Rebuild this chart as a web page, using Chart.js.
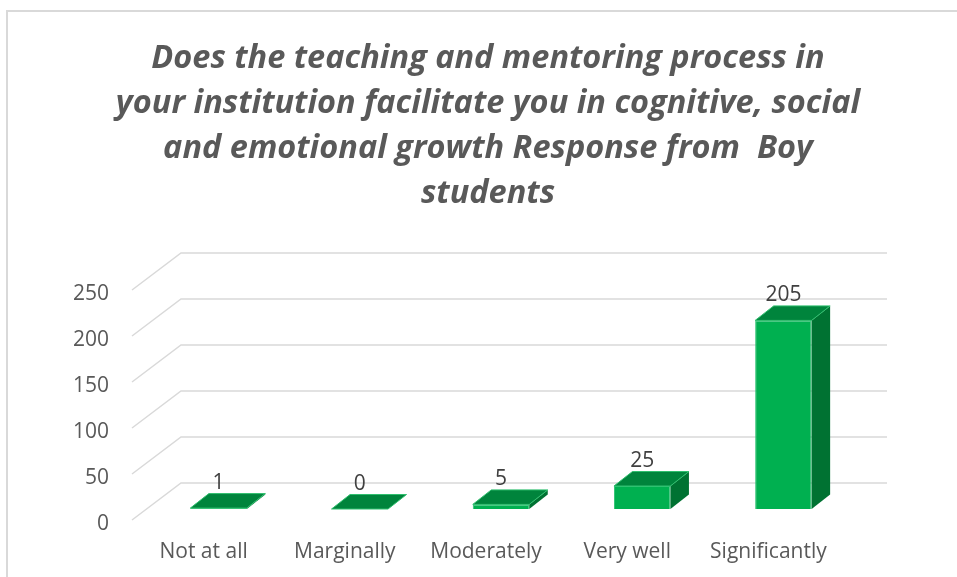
<!DOCTYPE html>
<html>
<head>
<meta charset="utf-8">
<script src="https://cdn.jsdelivr.net/npm/chart.js@4.4.1/dist/chart.umd.min.js"></script>
<style>
    html, body { margin: 0; padding: 0; background: #fff; overflow: hidden; }
    #frame { position: absolute; left: 6px; top: 10px; width: 2000px; height: 2000px;
             border-left: 2px solid #d9d9d9; border-top: 2px solid #d9d9d9; }
    #chart { position: absolute; left: 0; top: 0; }
</style>
</head>
<body>
<div id="frame"></div>
<canvas id="chart" width="957" height="577"></canvas>
<script>
const categories = ["Not at all", "Marginally", "Moderately", "Very well", "Significantly"];
const responses = [1, 0, 5, 25, 205];
const yTicks = [0, 50, 100, 150, 200, 250];
const titleLines = [
    "Does the teaching and mentoring process in",
    "your institution facilitate you in cognitive, social",
    "and emotional growth Response from  Boy",
    "students",
];

// depth offsets relative to the plane the bar fronts sit in
const BACK = { dx: 33, dy: -26 };
const FRONT = { dx: -16, dy: 11 };
const BAR_DEPTH = { dx: 18.5, dy: -14.5 };
const FONT = "'Open Sans', sans-serif";

const wallPlugin = {
    id: "wall",
    beforeDatasetsDraw(chart) {
        const { ctx, chartArea } = chart;
        const y = chart.scales.y;
        ctx.save();
        ctx.strokeStyle = "#d9d9d9";
        ctx.lineWidth = 1.5;
        yTicks.forEach((v) => {
            const py = y.getPixelForValue(v);
            ctx.beginPath();
            ctx.moveTo(chartArea.left + FRONT.dx, py + FRONT.dy);
            ctx.lineTo(chartArea.left + BACK.dx, py + BACK.dy);
            ctx.lineTo(chartArea.right + BACK.dx, py + BACK.dy);
            ctx.stroke();
        });
        ctx.restore();
    },
    afterDatasetsDraw(chart) {
        const { ctx } = chart;
        const meta = chart.getDatasetMeta(0);
        ctx.save();
        meta.data.forEach((bar, i) => {
            const l = bar.x - bar.width / 2;
            const r = bar.x + bar.width / 2;
            const t = bar.y;
            const b = bar.base;
            // side face
            ctx.fillStyle = "#007232";
            ctx.beginPath();
            ctx.moveTo(r, t);
            ctx.lineTo(r + BAR_DEPTH.dx, t + BAR_DEPTH.dy);
            ctx.lineTo(r + BAR_DEPTH.dx, b + BAR_DEPTH.dy);
            ctx.lineTo(r, b);
            ctx.closePath();
            ctx.fill();
            // top face
            ctx.fillStyle = "#00843c";
            ctx.strokeStyle = "#2fbf6e";
            ctx.lineWidth = 1;
            ctx.beginPath();
            ctx.moveTo(l, t);
            ctx.lineTo(l + BAR_DEPTH.dx, t + BAR_DEPTH.dy);
            ctx.lineTo(r + BAR_DEPTH.dx, t + BAR_DEPTH.dy);
            ctx.lineTo(r, t);
            ctx.closePath();
            ctx.fill();
            ctx.stroke();
            // value label
            ctx.fillStyle = "#404040";
            ctx.font = "21px " + FONT;
            ctx.textAlign = "center";
            ctx.textBaseline = "middle";
            ctx.fillText(String(responses[i]), bar.x, t - 25);
        });
        ctx.restore();
    },
};

new Chart(document.getElementById("chart"), {
    type: "bar",
    data: {
        labels: categories,
        datasets: [
            {
                label: "Response",
                data: responses,
                backgroundColor: "#00b050",
                borderColor: "#2fc474",
                borderWidth: 1,
                barPercentage: 0.4,
                categoryPercentage: 1,
            },
        ],
    },
    options: {
        responsive: false,
        animation: false,
        devicePixelRatio: 1,
        layout: { padding: { top: 0, right: 0, bottom: 0, left: 19 } },
        plugins: {
            legend: { display: false },
            tooltip: { enabled: false },
            title: {
                display: true,
                text: titleLines,
                color: "#595959",
                font: { family: FONT, size: 32.5, weight: "bold", style: "italic", lineHeight: "45px" },
                padding: { top: 36, bottom: 63 },
            },
        },
        scales: {
            x: {
                grid: { display: false },
                border: { display: false },
                ticks: { color: "#595959", font: { family: FONT, size: 21 }, padding: 22, labelOffset: -15 },
                afterFit(scale) { scale.height = 68; },
            },
            y: {
                min: 0,
                max: 250,
                grid: { display: false },
                border: { display: false },
                afterBuildTicks(scale) { scale.ticks = yTicks.map((v) => ({ value: v })); },
                ticks: { color: "#595959", font: { family: FONT, size: 21 }, padding: 31, labelOffset: 15 },
                afterFit(scale) { scale.width = 129; },
            },
            // empty right axis, only reserves the space right of the bars
            yRight: {
                position: "right",
                grid: { display: false },
                border: { display: false },
                ticks: { display: false },
                afterFit(scale) { scale.width = 103; },
            },
        },
    },
    plugins: [wallPlugin],
});
</script>
</body>
</html>
